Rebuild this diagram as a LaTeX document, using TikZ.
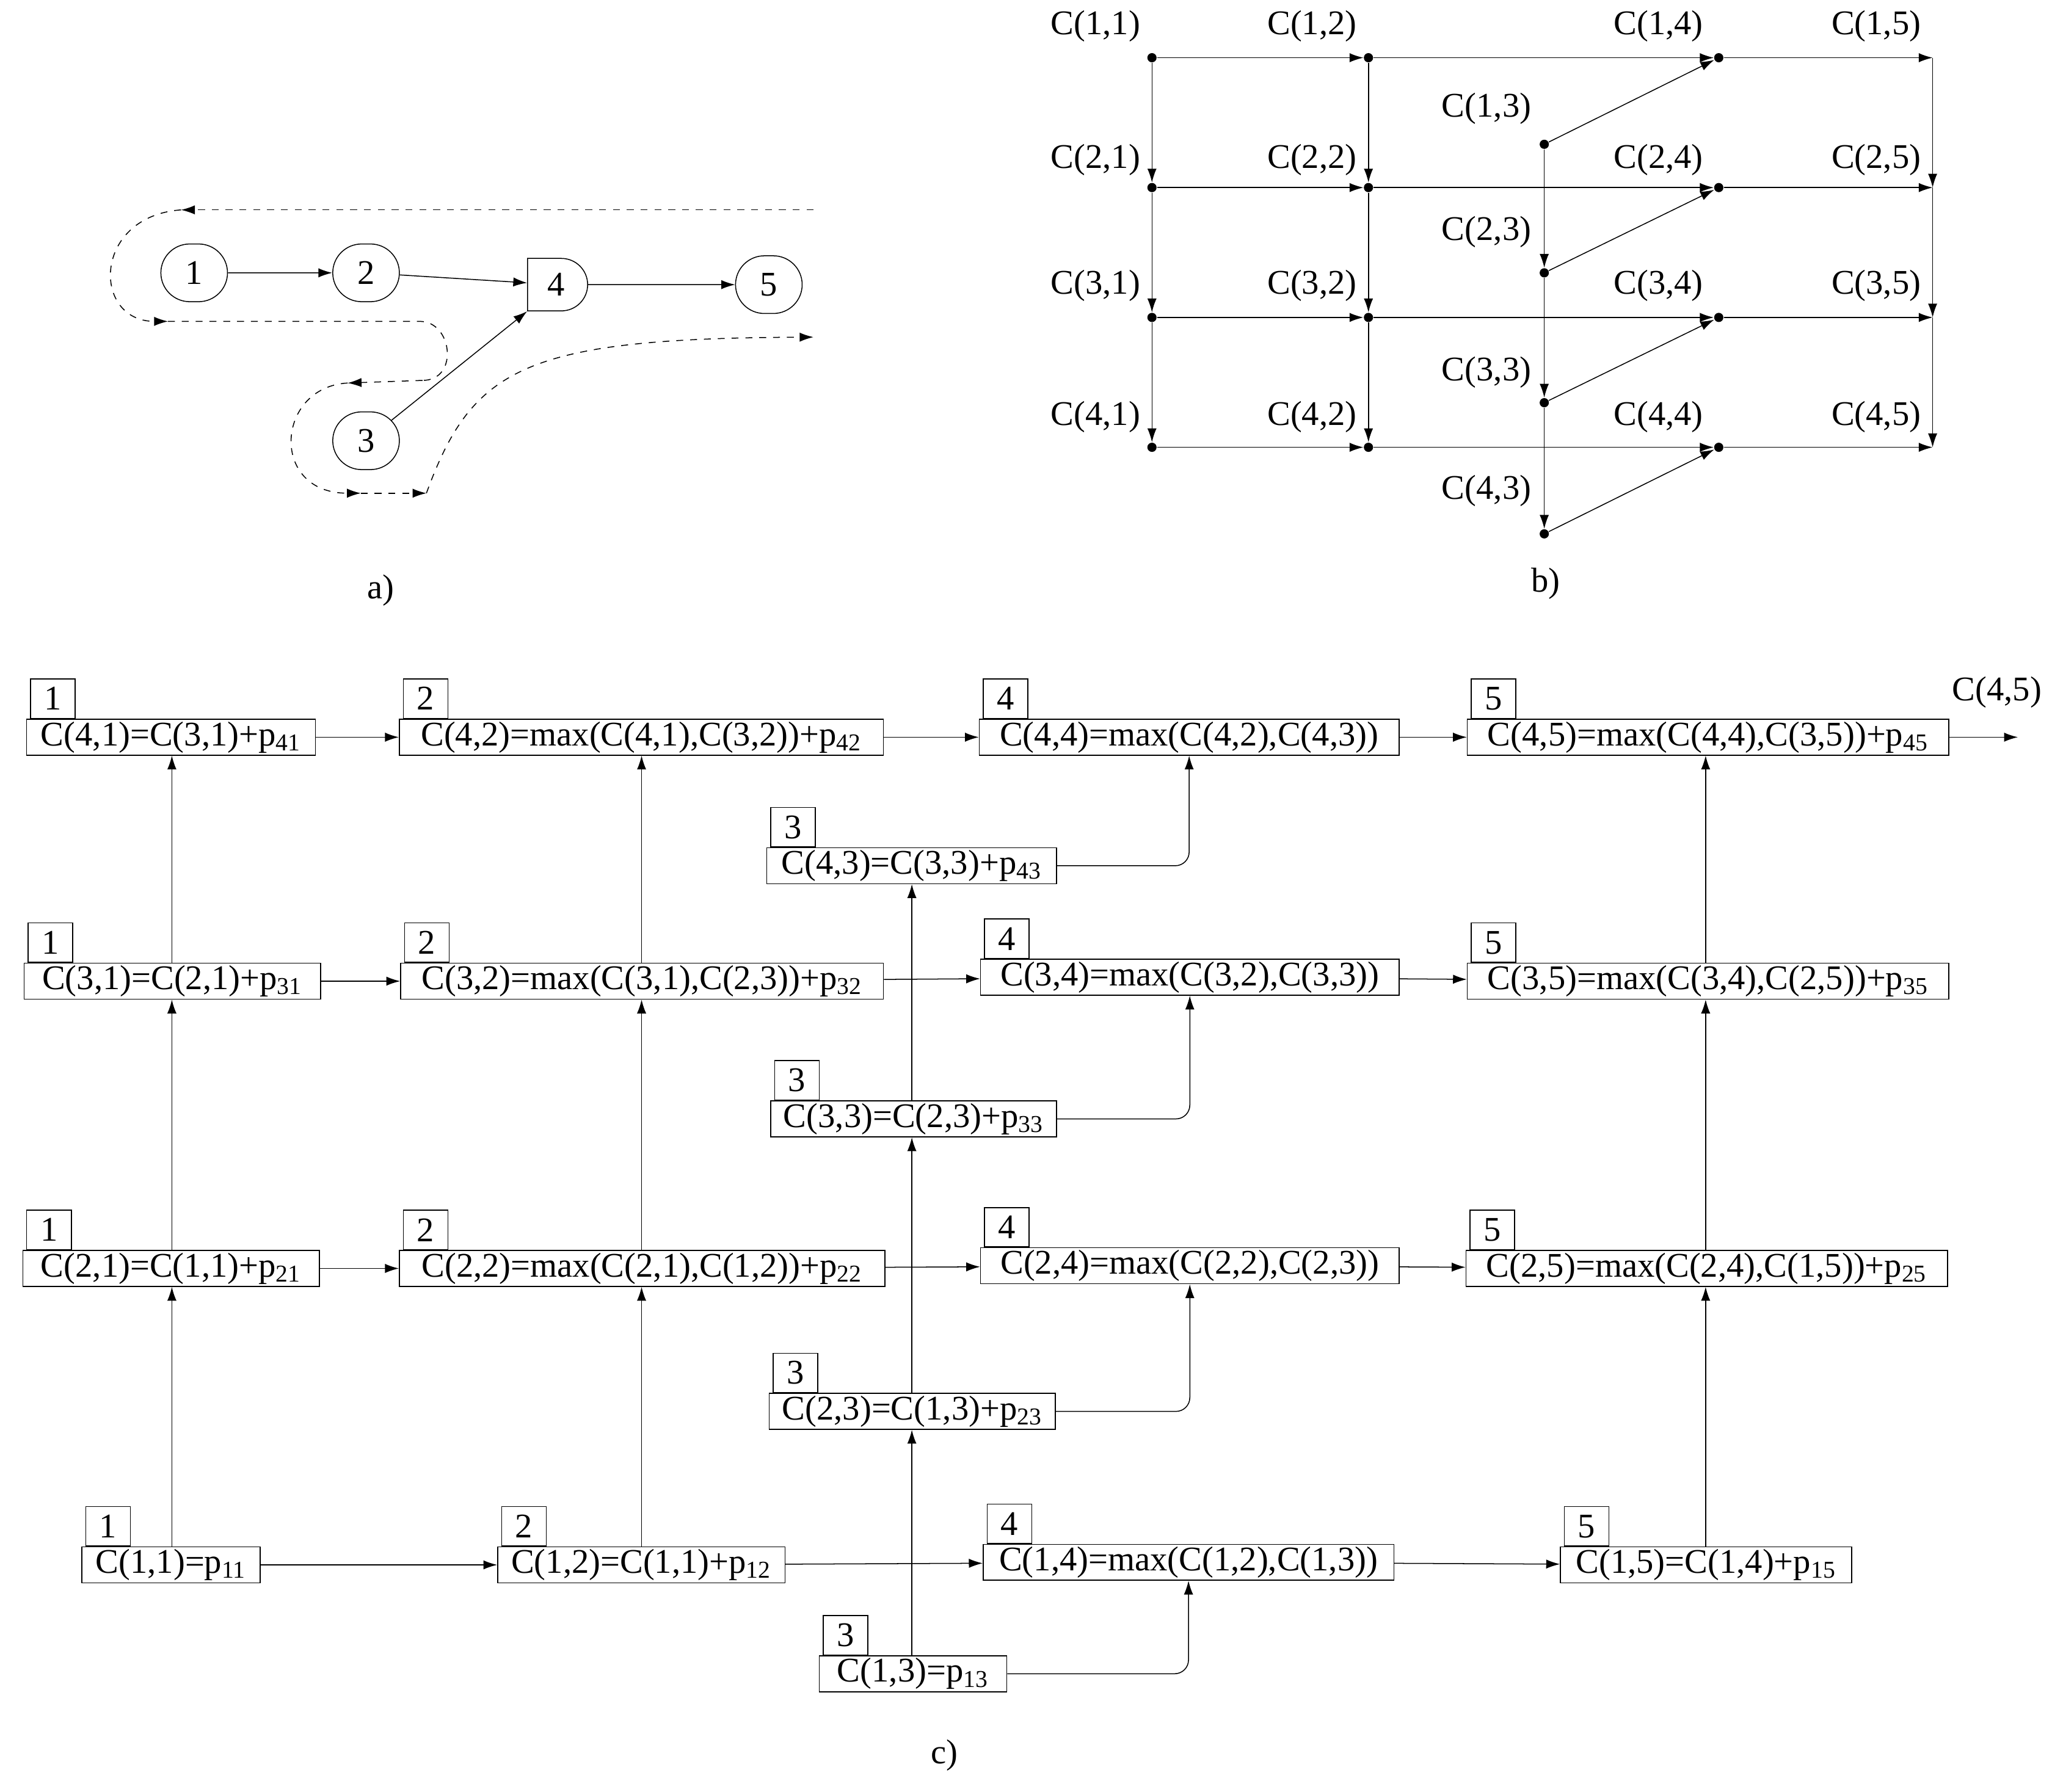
\documentclass[tikz,border=0pt]{standalone}
\usepackage{fontspec}
\setmainfont{Liberation Serif}
\usetikzlibrary{shapes.misc,arrows.meta}
\tikzset{
  vbox/.style={draw, minimum height=0.52cm, inner sep=1pt},
  lbox/.style={draw, minimum width=0.68cm, minimum height=0.6cm, inner sep=0pt, xshift=0.06cm},
  pnode/.style={draw, rounded rectangle, minimum width=1.25cm, minimum height=0.88cm},
  arr/.style={-{Latex[length=6pt,width=4pt]}},
  darr/.style={dashed, -{Latex[length=6pt,width=4pt]}},
  dot/.style={circle, fill, inner sep=0pt, minimum size=4pt},
}
\newcommand\cbox[6]{%
  \node[vbox, minimum width=#4*0.02cm, anchor=west] (#1) at (#2,#3) {#6};
  \node[lbox, anchor=south west] (#1l) at (#1.north west) {#5};}
\newcommand\pp[1]{p\textsubscript{#1}}
\begin{document}
\begin{tikzpicture}[x=0.02cm, y=-0.02cm, font=\fontsize{15}{18}\selectfont]
\useasboundingbox (0,0) rectangle (1564,1366);

% a)
\node[pnode] (a1) at (148,208) {1};
\node[pnode] (a2) at (279,208) {2};
\node[draw, rounded rectangle, rounded rectangle west arc=none, minimum width=1.15cm, minimum height=0.8cm] (a4) at (424,217) {4};
\node[pnode] (a5) at (586,217) {5};
\node[pnode] (a3) at (279,336) {3};
\draw[arr] (a1) -- (a2);
\draw[arr] (a2) -- (a4);
\draw[arr] (a4) -- (a5);
\draw[arr] (a3) -- (a4.south west);
\draw[darr] (620,160) -- (138,160);
\draw[darr] (138,160) .. controls (70,165) and (70,245) .. (128,245);
\draw[dashed] (128,245) -- (320,245) .. controls (345,245) and (350,290) .. (322,290);
\draw[darr] (322,290) -- (265,292);
\draw[darr] (265,292) .. controls (210,295) and (205,376) .. (275,376);
\draw[darr] (275,376) -- (325,376);
\draw[darr] (325,376) .. controls (360,280) and (400,258) .. (620,257);
\node (la) at (290,450) {a)};

% b)
\foreach \r/\y in {1/44,2/143,3/242,4/341}{
  \node[dot] (b\r1) at (878,\y) {};
  \node[dot] (b\r2) at (1043,\y) {};
  \node[dot] (b\r4) at (1310,\y) {};
  \coordinate (b\r5) at (1473,\y);
  \draw[arr] (b\r1) -- (b\r2);
  \draw[arr] (b\r2) -- (b\r4);
  \draw[arr] (b\r4) -- (b\r5);
}
\foreach \r/\y in {1/110,2/208,3/307,4/407}{
  \node[dot] (b\r3) at (1177,\y) {};
  \draw[arr] (b\r3) -- (b\r4);
}
\foreach \a/\b in {1/2,2/3,3/4}{
  \draw[arr] (b\a1) -- (b\b1);
  \draw[arr] (b\a2) -- (b\b2);
  \draw[arr] (b\a3) -- (b\b3);
  \draw[arr] (b\a5) -- (b\b5);
}
\foreach \r/\y in {1/20,2/122,3/218,4/318}{
  \node at (835,\y) {C(\r,1)};
  \node at (1000,\y) {C(\r,2)};
  \node at (1264,\y) {C(\r,4)};
  \node at (1430,\y) {C(\r,5)};
}
\foreach \r/\y in {1/83,2/177,3/284,4/374}{
  \node at (1133,\y) {C(\r,3)};
}
\node (lb) at (1178,445) {b)};

% c)
\cbox{c41}{20}{562}{220}{1}{C(4,1)=C(3,1)+\pp{41}}
\cbox{c42}{304}{562}{369}{2}{C(4,2)=max(C(4,1),C(3,2))+\pp{42}}
\cbox{c44}{746}{562}{320}{4}{C(4,4)=max(C(4,2),C(4,3))}
\cbox{c45}{1118}{562}{367}{5}{C(4,5)=max(C(4,4),C(3,5))+\pp{45}}
\cbox{c43}{584}{660}{221}{3}{C(4,3)=C(3,3)+\pp{43}}
\cbox{c31}{18}{748}{226}{1}{C(3,1)=C(2,1)+\pp{31}}
\cbox{c32}{305}{748}{368}{2}{C(3,2)=max(C(3,1),C(2,3))+\pp{32}}
\cbox{c34}{747}{745}{319}{4}{C(3,4)=max(C(3,2),C(3,3))}
\cbox{c35}{1118}{748}{367}{5}{C(3,5)=max(C(3,4),C(2,5))+\pp{35}}
\cbox{c33}{587}{853}{218}{3}{C(3,3)=C(2,3)+\pp{33}}
\cbox{c21}{17}{967}{226}{1}{C(2,1)=C(1,1)+\pp{21}}
\cbox{c22}{304}{967}{370}{2}{C(2,2)=max(C(2,1),C(1,2))+\pp{22}}
\cbox{c24}{747}{965}{319}{4}{C(2,4)=max(C(2,2),C(2,3))}
\cbox{c25}{1117}{967}{367}{5}{C(2,5)=max(C(2,4),C(1,5))+\pp{25}}
\cbox{c23}{586}{1076}{218}{3}{C(2,3)=C(1,3)+\pp{23}}
\cbox{c11}{62}{1193}{136}{1}{C(1,1)=\pp{11}}
\cbox{c12}{379}{1193}{219}{2}{C(1,2)=C(1,1)+\pp{12}}
\cbox{c14}{749}{1191}{313}{4}{C(1,4)=max(C(1,2),C(1,3))}
\cbox{c15}{1189}{1193}{222}{5}{C(1,5)=C(1,4)+\pp{15}}
\cbox{c13}{624}{1276}{143}{3}{C(1,3)=\pp{13}}
\foreach \r in {1,2,3,4}{
  \draw[arr] (c\r1) -- (c\r2);
  \draw[arr] (c\r2) -- (c\r4);
  \draw[arr] (c\r4) -- (c\r5);
  \draw[arr, rounded corners=6pt] (c\r3.east) -| (c\r4.south);
}
\foreach \a/\b in {1/2,2/3,3/4}{
  \draw[arr] (c\a1.north -| 131,0) -- (c\b1.south -| 131,0);
  \draw[arr] (c\a2.north -| 489,0) -- (c\b2.south -| 489,0);
  \draw[arr] (c\a3.north -| 695,0) -- (c\b3.south -| 695,0);
  \draw[arr] (c\a5.north -| 1300,0) -- (c\b5.south -| 1300,0);
}
\coordinate (cout) at (1538,562);
\draw[arr] (c45) -- (cout);
\node (c45n) at (1522,528) {C(4,5)};
\node (lc) at (720,1338) {c)};
\end{tikzpicture}
\end{document}
